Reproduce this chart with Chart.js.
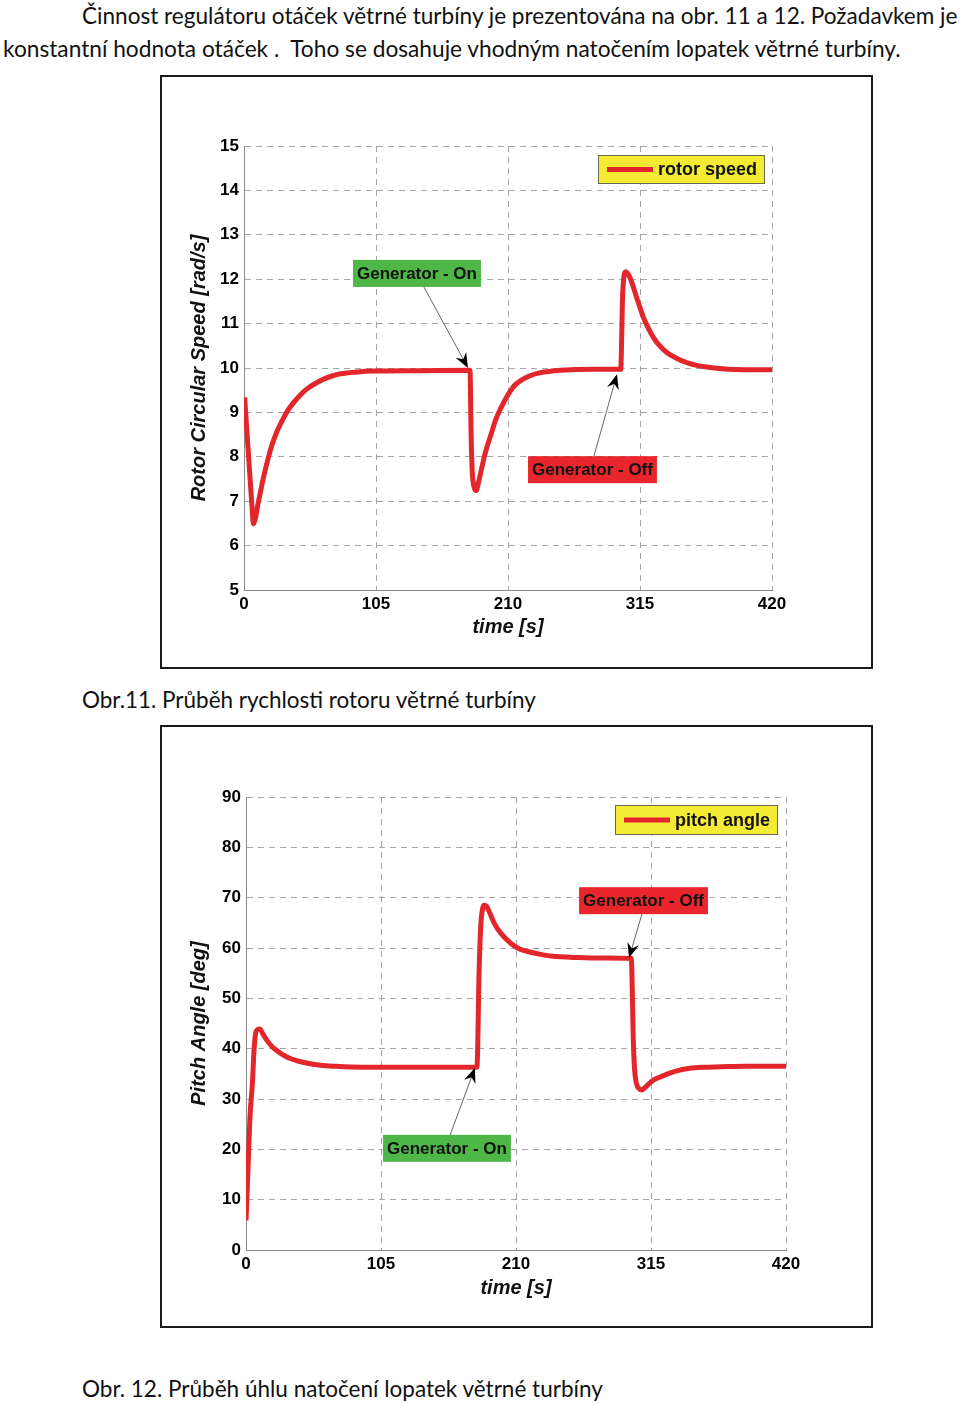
<!DOCTYPE html>
<html>
<head>
<meta charset="utf-8">
<script src="https://cdn.jsdelivr.net/npm/chart.js@4.4.1/dist/chart.umd.min.js"></script>
<style>
  body { margin: 0; background: #fff; width: 960px; height: 1403px; position: relative; overflow: hidden; }
  .txt { position: absolute; white-space: nowrap; font-family: Lato, "Open Sans", sans-serif; font-size: 22px; line-height: 1.2; color: #111; }
  .frame { position: absolute; left: 160px; width: 713px; border: 2px solid #1a1a1a; box-sizing: border-box; background: #fff; }
  .frame canvas { display: block; }
</style>
</head>
<body>
<div class="txt" data-x="82" data-w="876" data-b="24">Činnost regulátoru otáček větrné turbíny je prezentována na obr. 11 a 12. Požadavkem je</div>
<div class="txt" data-x="3" data-w="898" data-b="57">konstantní hodnota otáček .&nbsp; Toho se dosahuje vhodným natočením lopatek větrné turbíny.</div>

<div class="frame" style="top:75px;height:594px"><canvas id="speed-chart" width="709" height="590"></canvas></div>
<div class="txt" data-x="82" data-w="454" data-b="708">Obr.11. Průběh rychlosti rotoru větrné turbíny</div>

<div class="frame" style="top:725px;height:603px"><canvas id="pitch-chart" width="709" height="599"></canvas></div>
<div class="txt" data-x="82" data-w="521" data-b="1397">Obr. 12. Průběh úhlu natočení lopatek větrné turbíny</div>

<script>
// time axis ticks [s]
const timeTicks = [0, 105, 210, 315, 420];

// rotor speed [rad/s]
const speedTime = [0.5, 2.5, 4.5, 6.3, 7.5, 9, 11, 12.8, 15, 18.1,
    21, 23.5, 27, 31.4, 35, 39.4, 45, 50.1, 56, 63.4,
    70, 76.8, 90, 103.4, 140, 179.8, 180.6, 181.5, 183, 184.7,
    186.5, 188.7, 192, 196.7, 200, 204.7, 209.4, 215, 220.3, 227,
    234.9, 245, 260, 280, 299.7, 300.3, 301, 302, 303.6, 305,
    307, 309.5, 312.3, 315, 317.7, 321, 325.6, 330, 336.3, 344,
    352.2, 360, 370.8, 385, 397.4, 420];
const speedValue = [9.34, 8.5, 7.65, 6.9, 6.49, 6.6, 6.92, 7.17, 7.47, 7.84,
    8.15, 8.37, 8.62, 8.87, 9.05, 9.22, 9.40, 9.53, 9.64, 9.75,
    9.82, 9.87, 9.91, 9.93, 9.94, 9.95, 8.6, 7.7, 7.32, 7.24,
    7.42, 7.69, 8.1, 8.52, 8.82, 9.12, 9.37, 9.6, 9.72, 9.82,
    9.89, 9.93, 9.96, 9.97, 9.97, 10.5, 11.5, 12.0, 12.17, 12.14,
    12.04, 11.84, 11.59, 11.36, 11.14, 10.93, 10.69, 10.52, 10.35, 10.22,
    10.12, 10.06, 10.01, 9.97, 9.96, 9.96];

// pitch angle [deg]
const pitchTime = [0, 0.5, 1.6, 3.1, 5, 6.3, 7.6, 9, 10.7, 13,
    16.7, 20, 24.6, 30, 35, 41, 48, 58, 69, 90,
    130, 179.5, 180.2, 181, 182.5, 184, 185.2, 187, 189.2, 193.1,
    198.3, 206.1, 212, 219.1, 228, 237.4, 258.2, 280, 299.7, 300.4,
    301.2, 302.2, 303.5, 305.5, 307.7, 310, 312.9, 317, 323.3, 329,
    336.4, 345, 354.6, 370, 388.5, 420];
const pitchValue = [5.9, 9, 16.5, 26.5, 33.2, 39.9, 43.2, 43.8, 43.9, 43,
    41.5, 40.5, 39.5, 38.6, 38, 37.5, 37.1, 36.7, 36.5, 36.3,
    36.3, 36.3, 40, 52, 64, 67.8, 68.5, 68.3, 67.2, 64.9,
    62.9, 60.9, 59.9, 59.3, 58.8, 58.4, 58.1, 58, 57.9, 52,
    42, 36, 33.3, 32.1, 31.8, 32.2, 32.9, 33.8, 34.5, 35.1,
    35.7, 36.1, 36.3, 36.4, 36.5, 36.5];

const FONT = '"Liberation Sans", Arial, sans-serif';

// paragraph text: fit widths of the Calibri original and sit on its baselines
document.querySelectorAll('.txt').forEach(el => {
    const w = el.getBoundingClientRect().width;
    el.style.fontSize = (22 * el.dataset.w / w) + 'px';
    el.style.left = el.dataset.x + 'px';
    const m = document.createElement('span');
    m.style.cssText = 'display:inline-block;width:0;height:0';
    el.appendChild(m);
    const b = m.getBoundingClientRect().top - el.getBoundingClientRect().top;
    el.style.top = (el.dataset.b - b) + 'px';
});

// callout boxes, arrows and the yellow legend box
const marksPlugin = {
    id: 'marks',
    afterDatasetsDraw(chart, args, opts) {
        const ctx = chart.ctx;
        const xs = chart.scales.x, ys = chart.scales.y, area = chart.chartArea;
        ctx.save();
        ctx.font = 'bold 17px ' + FONT;
        ctx.textAlign = 'center';
        ctx.textBaseline = 'middle';
        opts.notes.forEach(n => {
            const tx = xs.getPixelForValue(n.from[0]), ty = ys.getPixelForValue(n.from[1]);
            const px = xs.getPixelForValue(n.tip[0]), py = ys.getPixelForValue(n.tip[1]);
            const a = Math.atan2(py - ty, px - tx);
            const dx = Math.cos(a), dy = Math.sin(a);
            ctx.strokeStyle = '#666';
            ctx.lineWidth = 1;
            ctx.beginPath();
            ctx.moveTo(tx, ty);
            ctx.lineTo(px - 9 * dx, py - 9 * dy);
            ctx.stroke();
            ctx.fillStyle = '#000';
            ctx.beginPath();
            ctx.moveTo(px, py);
            ctx.lineTo(px - 15 * dx - 6 * dy, py - 15 * dy + 6 * dx);
            ctx.lineTo(px - 10 * dx, py - 10 * dy);
            ctx.lineTo(px - 15 * dx + 6 * dy, py - 15 * dy - 6 * dx);
            ctx.closePath();
            ctx.fill();

            const bx = xs.getPixelForValue(n.at[0]), by = ys.getPixelForValue(n.at[1]);
            const w = ctx.measureText(n.text).width + 8, h = 27;
            ctx.fillStyle = n.fill;
            ctx.fillRect(bx - w / 2, by - h / 2, w, h);
            ctx.fillStyle = '#111';
            ctx.fillText(n.text, bx, by + 1);
        });

        const ds = chart.data.datasets[0];
        const lg = opts.legend;
        ctx.font = 'bold 18px ' + FONT;
        const tw = ctx.measureText(ds.label).width;
        const w = 9 + 46 + 5 + tw + 8;
        const right = area.right - lg.right, top = area.top + lg.top;
        ctx.fillStyle = '#f4ec34';
        ctx.fillRect(right - w, top, w, lg.height);
        ctx.strokeStyle = '#6a6a50';
        ctx.lineWidth = 1;
        ctx.strokeRect(right - w + 0.5, top + 0.5, w - 1, lg.height - 1);
        ctx.strokeStyle = ds.borderColor;
        ctx.lineWidth = 5;
        ctx.beginPath();
        ctx.moveTo(right - w + 9, top + lg.height / 2);
        ctx.lineTo(right - w + 55, top + lg.height / 2);
        ctx.stroke();
        ctx.fillStyle = '#111';
        ctx.textAlign = 'left';
        ctx.fillText(ds.label, right - w + 60, top + lg.height / 2 + 1);
        ctx.restore();
    }
};

function showChart(id, times, values, label, yMin, yMax, yStep, yTitle, box) {
    const tickFont = {family: FONT, size: 17, weight: 'bold'};
    const titleFont = {family: FONT, size: 20, weight: 'bold', style: 'italic'};
    const config = {
        type: 'line',
        data: {
            datasets: [{
                label: label,
                data: times.map((t, i) => ({x: t, y: values[i]})),
                borderColor: '#e2262c',
                borderWidth: 5,
                pointRadius: 0,
                cubicInterpolationMode: 'monotone',
                fill: false
            }]
        },
        options: {
            responsive: false,
            animation: false,
            layout: {padding: {top: box.padTop, right: box.padRight, left: 0, bottom: 0}},
            plugins: {
                legend: {display: false},
                tooltip: {enabled: false},
                marks: {notes: box.notes, legend: box.legend}
            },
            scales: {
                x: {
                    type: 'linear',
                    min: timeTicks[0],
                    max: timeTicks[timeTicks.length - 1],
                    afterFit: s => { s.height = box.xH; },
                    afterBuildTicks: s => { s.ticks = timeTicks.map(v => ({value: v})); },
                    ticks: {color: '#000', font: tickFont, padding: 4, maxRotation: 0, autoSkip: false},
                    grid: {color: '#a4a4a4', drawTicks: false},
                    border: {display: true, color: '#8a8a8a', dash: [6, 5]},
                    title: {display: true, text: 'time [s]', color: '#111', font: titleFont, padding: {top: 0, bottom: box.xTitlePad}}
                },
                y: {
                    min: yMin,
                    max: yMax,
                    afterFit: s => { s.width = box.yW; },
                    ticks: {stepSize: yStep, color: '#000', font: tickFont, padding: 5},
                    grid: {color: '#a4a4a4', drawTicks: false},
                    border: {display: true, color: '#8a8a8a', dash: [6, 5]},
                    title: {display: true, text: yTitle, color: '#111', font: titleFont, padding: {top: 25, bottom: 0}}
                }
            }
        },
        plugins: [marksPlugin]
    };
    return new Chart(document.getElementById(id), config);
}

showChart('speed-chart', speedTime, speedValue, 'rotor speed', 5, 15, 1, 'Rotor Circular Speed [rad/s]', {
    padTop: 69, padRight: 99, yW: 82, xH: 77, xTitlePad: 28,
    legend: {right: 7, top: 9, height: 29},
    notes: [
        {text: 'Generator - On', fill: '#4fb648', at: [137.6, 12.13], from: [143.2, 11.82], tip: [178.2, 10.0]},
        {text: 'Generator - Off', fill: '#e8262b', at: [277.2, 7.71], from: [278.4, 8.02], tip: [296.7, 9.86]}
    ]
});

showChart('pitch-chart', pitchTime, pitchValue, 'pitch angle', 0, 90, 10, 'Pitch Angle [deg]', {
    padTop: 70, padRight: 85, yW: 84, xH: 76, xTitlePad: 26,
    legend: {right: 8, top: 8, height: 30},
    notes: [
        {text: 'Generator - Off', fill: '#e8262b', at: [309.2, 69.4], from: [308, 66.8], tip: [297.9, 58.0]},
        {text: 'Generator - On', fill: '#4fb648', at: [156.3, 20.2], from: [158.7, 22.8], tip: [178.1, 36.2]}
    ]
});
</script>
</body>
</html>
